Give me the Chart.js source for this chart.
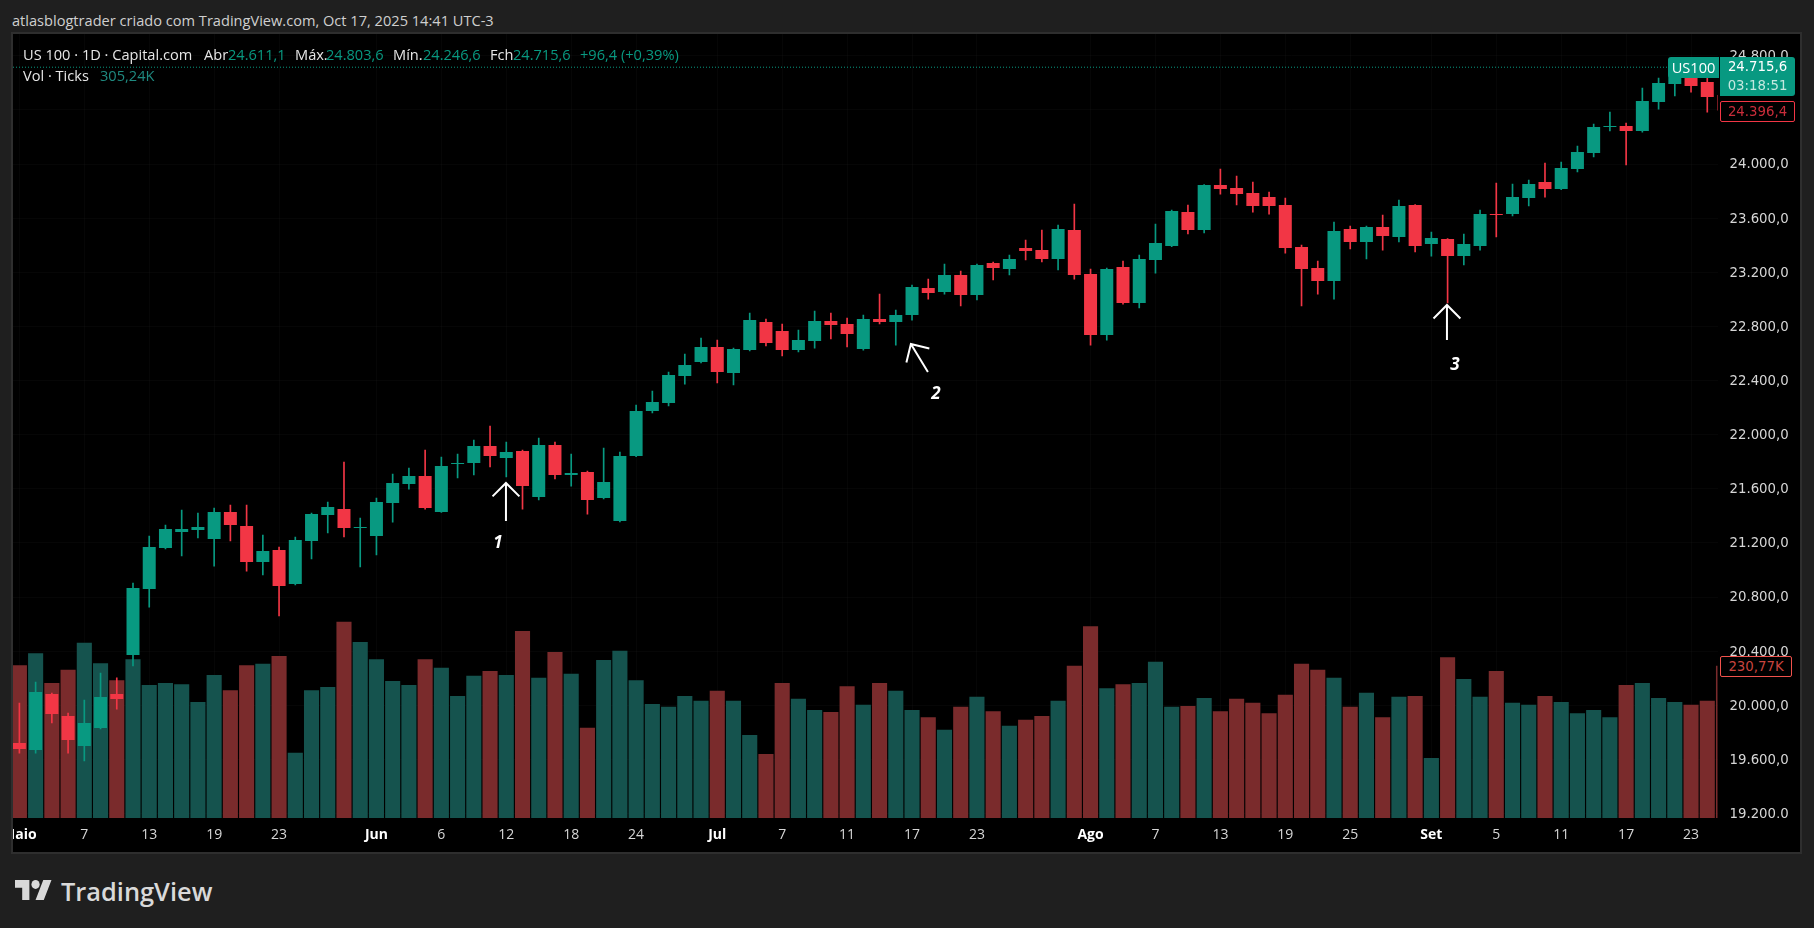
<!DOCTYPE html>
<html>
<head>
<meta charset="utf-8">
<title>US 100</title>
<script src="https://cdn.jsdelivr.net/npm/chart.js@4"></script>
<style>
    html, body { margin: 0; padding: 0; width: 1814px; height: 928px; overflow: hidden; background: #1f1f1f; }
    body { font-family: "Open Sans", sans-serif; font-size: 14.6px; position: relative; }
    .abs { position: absolute; white-space: nowrap; line-height: 18px; }
    #panel { position: absolute; left: 11px; top: 32px; width: 1787px; height: 818px; border: 2px solid #2e2e2e; background: #000; }
    #chart { position: absolute; left: 13px; top: 34px; }
    .w { color: #e6e6e6; }
    .g { color: #089981; }
    .box { position: absolute; text-align: center; box-sizing: border-box; font-family: "DejaVu Sans", sans-serif; font-size: 13.3px; }
</style>
</head>
<body>
<div class="abs" style="left:12px;top:11px;color:#cfcfcf">atlasblogtrader criado com TradingView.com, Oct 17, 2025 14:41 UTC-3</div>
<div id="panel"></div>
<canvas id="chart" width="1787" height="818"></canvas>

<div class="abs w" style="left:23px;top:45px">US 100 · 1D · Capital.com</div>
<div class="abs w" style="left:204px;top:45px">Abr</div><div class="abs g" style="left:228px;top:45px">24.611,1</div>
<div class="abs w" style="left:295px;top:45px">Máx.</div><div class="abs g" style="left:326px;top:45px">24.803,6</div>
<div class="abs w" style="left:393px;top:45px">Mín.</div><div class="abs g" style="left:423px;top:45px">24.246,6</div>
<div class="abs w" style="left:490px;top:45px">Fch</div><div class="abs g" style="left:513px;top:45px">24.715,6</div>
<div class="abs g" style="left:580px;top:45px">+96,4 (+0,39%)</div>
<div class="abs w" style="left:23px;top:66px">Vol · Ticks</div>
<div class="abs" style="left:100px;top:66px;color:#1f8a80">305,24K</div>

<div class="box" style="left:1668px;top:57px;width:51px;height:21px;background:#089981;color:#fff;line-height:21px;border-radius:3px 0 0 3px;font-family:'Open Sans',sans-serif;font-size:14.6px">US100</div>
<div class="box" style="left:1720px;top:57px;width:75px;height:39px;background:#089981;color:#fff;line-height:19px;border-radius:0 3px 3px 0">24.715,6<br><span style="color:#c4e8df">03:18:51</span></div>
<div class="box" style="left:1720px;top:101px;width:75px;height:21px;background:#000;border:1px solid #f23645;color:#c92d3a;line-height:19px;border-radius:2px">24.396,4</div>
<div class="box" style="left:1720px;top:656px;width:72px;height:21px;background:#000;border:1px solid #f0524c;color:#c9443f;line-height:19px;border-radius:2px">230,77K</div>

<svg class="abs" style="left:15px;top:880px" width="37" height="20" viewBox="0 4 36 18" preserveAspectRatio="none">
    <path fill="#d9d9d9" d="M14 22H7V11H0V4h14v18zM28 22h-8l7.5-18h8L28 22z"></path>
    <circle fill="#d9d9d9" cx="20" cy="8" r="4"></circle>
</svg>
<div class="abs" style="left:61px;top:875px;font-size:25.4px;line-height:32px;font-weight:600;color:#d9d9d9">TradingView</div>

<script>
// Tick labels, indexes are weekdays counted from May 1
const tickIndex = [0, 4, 8, 12, 16, 22, 26, 30, 34, 38, 43, 47, 51, 55, 59, 66, 70, 74, 78, 82, 87, 91, 95, 99, 103];
const tickLabels = ['Maio', '7', '13', '19', '23', 'Jun', '6', '12', '18', '24', 'Jul', '7', '11', '17', '23', 'Ago', '7', '13', '19', '25', 'Set', '5', '11', '17', '23'];
const monthLabels = ['Maio', 'Jun', 'Jul', 'Ago', 'Set'];
const priceTicks = [19200, 19600, 20000, 20400, 20800, 21200, 21600, 22000, 22400, 22800, 23200, 23600, 24000, 24400, 24800];

const opens = [
    19721, 19669, 20083, 19921, 19699, 19832, 20083, 20372, 20859, 21162,
    21280, 21295, 21229, 21428, 21325, 21059, 21147, 20896, 21214, 21406,
    21450, 21310, 21251, 21495, 21635, 21694, 21428, 21783, 21790, 21916,
    21827, 21879, 21539, 21923, 21702, 21724, 21532, 21362, 21842, 22175,
    22234, 22433, 22537, 22648, 22455, 22625, 22832, 22766, 22625, 22692,
    22840, 22818, 22633, 22855, 22832, 22884, 23084, 23054, 23180, 23032,
    23268, 23224, 23379, 23364, 23298, 23512, 23187, 22736, 23239, 22973,
    23291, 23394, 23645, 23512, 23845, 23823, 23786, 23756, 23697, 23387,
    23231, 23135, 23520, 23424, 23534, 23461, 23697, 23409, 23446, 23320,
    23394, 23630, 23630, 23749, 23867, 23815, 23963, 24081, 24273, 24281,
    24244, 24458, 24591, 24680, 24606, 24510
];
const highs = [
    20017, 20172, 20091, 19943, 20039, 20238, 20202, 20904, 21251, 21332,
    21443, 21421, 21458, 21480, 21480, 21258, 21170, 21244, 21421, 21502,
    21798, 21384, 21532, 21709, 21753, 21886, 21835, 21857, 21960, 22064,
    21946, 21886, 21975, 21946, 21857, 21731, 21901, 21872, 22219, 22322,
    22463, 22596, 22714, 22699, 22640, 22899, 22855, 22818, 22773, 22914,
    22899, 22862, 22884, 23039, 22921, 23106, 23150, 23261, 23209, 23261,
    23276, 23328, 23438, 23512, 23549, 23704, 23224, 23231, 23283, 23328,
    23557, 23660, 23697, 23848, 23963, 23911, 23867, 23793, 23749, 23401,
    23283, 23571, 23542, 23542, 23623, 23734, 23700, 23497, 23450, 23483,
    23660, 23860, 23852, 23882, 24007, 24015, 24133, 24296, 24384, 24303,
    24562, 24636, 24769, 24724, 24636, 24520
];
const lows = [
    19647, 19647, 19869, 19647, 19588, 19825, 19972, 20290, 20726, 21155,
    21103, 21236, 21029, 21214, 20992, 20963, 20660, 20889, 21081, 21273,
    21244, 21022, 21111, 21354, 21598, 21450, 21425, 21680, 21702, 21761,
    21687, 21450, 21517, 21672, 21620, 21413, 21525, 21355, 21838, 22160,
    22212, 22374, 22530, 22382, 22367, 22618, 22655, 22581, 22611, 22640,
    22707, 22648, 22625, 22818, 22662, 22847, 23002, 23039, 22951, 22995,
    23143, 23180, 23291, 23276, 23217, 23150, 22662, 22699, 22965, 22936,
    23194, 23390, 23483, 23490, 23778, 23697, 23645, 23630, 23342, 22951,
    23039, 23002, 23372, 23298, 23364, 23424, 23350, 23320, 22973, 23254,
    23364, 23461, 23616, 23690, 23756, 23810, 23941, 24052, 24244, 23993,
    24236, 24406, 24503, 24532, 24384, 24390
];
const closes = [
    19677, 20098, 19935, 19743, 19869, 20061, 20046, 20867, 21170, 21303,
    21303, 21317, 21428, 21332, 21059, 21140, 20881, 21221, 21413, 21465,
    21310, 21317, 21502, 21643, 21694, 21458, 21768, 21790, 21916, 21842,
    21872, 21620, 21923, 21702, 21716, 21517, 21650, 21842, 22175, 22241,
    22441, 22515, 22648, 22463, 22633, 22847, 22677, 22625, 22699, 22840,
    22810, 22744, 22855, 22832, 22884, 23091, 23047, 23180, 23032, 23254,
    23231, 23298, 23357, 23298, 23520, 23180, 22736, 23224, 22973, 23298,
    23416, 23653, 23512, 23845, 23815, 23778, 23690, 23690, 23379, 23224,
    23135, 23505, 23424, 23534, 23468, 23690, 23394, 23453, 23320, 23409,
    23630, 23623, 23756, 23852, 23815, 23970, 24089, 24273, 24281, 24244,
    24466, 24599, 24724, 24576, 24495, 24396
];
// Volume in thousands of ticks
const volumes = [
    232, 250, 205, 225, 266, 235, 209, 241, 202, 205,
    203, 176, 217, 194, 232, 234, 246, 99, 194, 199,
    298, 267, 241, 208, 202, 241, 228, 185, 216, 223,
    217, 284, 213, 252, 219, 137, 240, 254, 209, 173,
    169, 185, 178, 193, 178, 126, 97, 205, 181, 164,
    161, 200, 172, 205, 193, 164, 153, 134, 169, 184,
    162, 140, 149, 155, 178, 231, 291, 197, 203, 205,
    237, 169, 170, 182, 162, 181, 175, 159, 187, 234,
    225, 213, 169, 190, 153, 184, 185, 91, 244, 211,
    184, 223, 175, 172, 185, 176, 159, 164, 153, 202,
    205, 182, 176, 172, 178, 231
];

// Hand drawn arrows and their numbers, x in bars and y in price
const arrowTipX = [29.98, 54.93, 87.96];
const arrowTipY = [21643, 22670, 22958];
const arrowTailX = [29.98, 55.98, 87.96];
const arrowTailY = [21362, 22463, 22699];
const arrowTextX = [29.49, 56.47, 88.45];
const arrowTextY = [21199, 22300, 22515];
const arrowText = ['1', '2', '3'];

const lastPrice = 24715.6;

const UP = '#089981';
const DOWN = '#f23645';
const UP_VOL = '#15534e';
const DOWN_VOL = '#7a2b2c';
const GRID = 'rgba(255,255,255,0.025)';
const AXIS_FONT = '"Open Sans", sans-serif';

const isUp = i => closes[i] >= opens[i];
const isMonthTick = ctx => ctx.tick && monthLabels.includes(tickLabels[tickIndex.indexOf(ctx.tick.value)]);
const xMin = -0.394;
const xMax = 104.63;

const arrowsPlugin = {
    id: 'arrows',
    afterDatasetsDraw(chart) {
        const { ctx, scales: { x, y } } = chart;
        ctx.save();
        ctx.strokeStyle = '#fff';
        ctx.fillStyle = '#fff';
        ctx.lineWidth = 2;
        arrowTipX.forEach((tip, i) => {
            const tx = x.getPixelForValue(tip);
            const ty = y.getPixelForValue(arrowTipY[i]);
            const bx = x.getPixelForValue(arrowTailX[i]);
            const by = y.getPixelForValue(arrowTailY[i]);
            const ang = Math.atan2(by - ty, bx - tx);
            ctx.beginPath();
            ctx.moveTo(bx, by);
            ctx.lineTo(tx, ty);
            ctx.moveTo(tx + 19 * Math.cos(ang + Math.PI / 4), ty + 19 * Math.sin(ang + Math.PI / 4));
            ctx.lineTo(tx, ty);
            ctx.lineTo(tx + 19 * Math.cos(ang - Math.PI / 4), ty + 19 * Math.sin(ang - Math.PI / 4));
            ctx.stroke();
        });
        ctx.font = 'italic bold 17px ' + AXIS_FONT;
        ctx.textAlign = 'center';
        ctx.textBaseline = 'middle';
        arrowText.forEach((t, i) => {
            ctx.fillText(t, x.getPixelForValue(arrowTextX[i]), y.getPixelForValue(arrowTextY[i]));
        });
        ctx.restore();
    },
    afterDraw(chart) {
        // price labels stop where the time axis starts
        const { ctx, chartArea, width, height } = chart;
        ctx.save();
        ctx.fillStyle = '#000';
        ctx.fillRect(chartArea.right, chartArea.bottom, width - chartArea.right, height - chartArea.bottom);
        ctx.restore();
    }
};

const xy = (fn) => opens.map((_, i) => ({ x: i, y: fn(i) }));

new Chart(document.getElementById('chart'), {
    type: 'bar',
    plugins: [arrowsPlugin],
    data: {
        datasets: [
            {
                // last price line
                type: 'line',
                data: [{ x: xMin, y: lastPrice }, { x: xMax, y: lastPrice }],
                borderColor: UP,
                borderWidth: 1,
                borderDash: [1, 2],
                pointRadius: 0,
                order: 1
            },
            {
                // candle bodies
                data: xy(i => [opens[i], closes[i]]),
                backgroundColor: opens.map((_, i) => isUp(i) ? UP : DOWN),
                barPercentage: 0.8,
                categoryPercentage: 1,
                grouped: false,
                order: 2
            },
            {
                // wicks
                data: xy(i => [lows[i], highs[i]]),
                backgroundColor: opens.map((_, i) => isUp(i) ? UP : DOWN),
                maxBarThickness: 1,
                barPercentage: 1,
                categoryPercentage: 1,
                grouped: false,
                order: 3
            },
            {
                data: xy(i => volumes[i]),
                yAxisID: 'vol',
                backgroundColor: opens.map((_, i) => isUp(i) ? UP_VOL : DOWN_VOL),
                barPercentage: 0.93,
                categoryPercentage: 1,
                grouped: false,
                order: 4
            }
        ]
    },
    options: {
        responsive: false,
        animation: false,
        layout: { padding: 0 },
        plugins: { legend: { display: false }, tooltip: { enabled: false } },
        scales: {
            x: {
                type: 'linear',
                min: xMin,
                max: xMax,
                offset: false,
                afterBuildTicks: scale => { scale.ticks = tickIndex.map(v => ({ value: v })); },
                afterFit: scale => {
                    scale.height = 34;
                    scale.paddingLeft = 0;
                    scale.paddingRight = 0;
                },
                grid: { color: GRID, offset: false, drawTicks: false },
                border: { display: false },
                ticks: {
                    autoSkip: false,
                    maxRotation: 0,
                    padding: 9,
                    color: ctx => isMonthTick(ctx) ? '#ffffff' : '#d6d6d6',
                    font: ctx => ({
                        family: AXIS_FONT,
                        size: 14,
                        weight: isMonthTick(ctx) ? 'bold' : 'normal'
                    }),
                    callback: value => tickLabels[tickIndex.indexOf(value)]
                }
            },
            y: {
                position: 'right',
                min: 19167,
                max: 24961,
                afterBuildTicks: scale => { scale.ticks = priceTicks.map(v => ({ value: v })); },
                afterFit: scale => {
                    scale.width = 82.5;
                    scale.paddingTop = 0;
                    scale.paddingBottom = 0;
                },
                grid: { color: GRID, drawTicks: false },
                border: { display: false },
                ticks: {
                    padding: 12,
                    labelOffset: 1,
                    color: '#d6d6d6',
                    font: { family: '"DejaVu Sans", sans-serif', size: 13.3 },
                    callback: value => value.toLocaleString('pt-BR', { minimumFractionDigits: 1 })
                }
            },
            vol: {
                display: false,
                position: 'right',
                min: 0,
                max: 1190
            }
        }
    }
});
</script>
</body>
</html>
